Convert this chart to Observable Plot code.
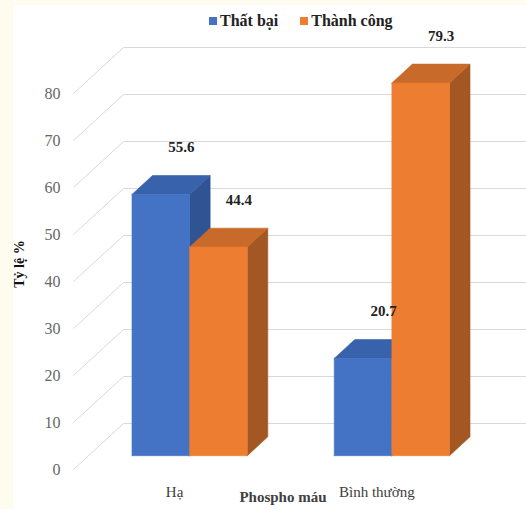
<!DOCTYPE html>
<html><head><meta charset="utf-8">
<script src="https://cdn.jsdelivr.net/npm/d3@7"></script>
<script src="https://cdn.jsdelivr.net/npm/@observablehq/plot@0.6"></script>
<style>
html,body{margin:0;padding:0;background:#fdfcee;}
#wrap{position:relative;width:526px;height:509px;overflow:hidden;}
#panel{position:absolute;left:13px;top:5px;width:513px;height:504px;background:#fff;}
#chart{position:absolute;left:0;top:0;}
.lab{position:absolute;font-family:'Liberation Serif','Tinos','Times New Roman','DejaVu Serif',serif;font-weight:bold;white-space:nowrap;}
.sw{display:inline-block;width:8px;height:8px;margin-right:3px;vertical-align:1px;}
#chart svg text{font-family:'Liberation Serif','Tinos','Times New Roman','DejaVu Serif',serif;}
</style></head><body>
<div id="wrap">
<div id="panel"></div>
<div id="chart"></div>
<div id="legend" class="lab" style="left:209px;top:12px;font-size:16px;color:#222;"></div>
<div id="ytitle" class="lab" style="left:20px;top:264px;font-size:14px;color:#111;transform:translate(-50%,-50%) rotate(-90deg);">Tỷ lệ %</div>
<div id="xtitle" class="lab" style="left:283px;top:497px;font-size:15px;color:#404040;transform:translate(-50%,-50%);">Phospho máu</div>
</div>
<script>
const categories = ["Hạ", "Bình thường"];
const series = ["Thất bại", "Thành công"];
const thatBai = [55.6, 20.7];
const thanhCong = [44.4, 79.3];
const yTicks = [0, 10, 20, 30, 40, 50, 60, 70, 80];

const values = [thatBai, thanhCong];
const palette = [
  {front: "#4472c4", top: "#3962ac", side: "#2f5393"},
  {front: "#ed7d31", top: "#c86a29", side: "#a35823"}
];

// legend
const legend = document.getElementById("legend");
series.forEach((s, j) => {
  const span = document.createElement("span");
  span.style.marginRight = j === 0 ? "22px" : "0";
  span.innerHTML = `<span class="sw" style="background:${palette[j].front}"></span>${s}`;
  legend.appendChild(span);
});

// oblique 3D geometry (data units)
const W = 0.285, T0 = 0.3, T1 = 0.71, DX = 0.2475, DY = 9.79, XL = -0.5, XR = 1.74;
const P = (x, y, t) => ({x: x + t * DX, y: y + t * DY});

const faces = series.map(() => ({front: [], top: [], side: []}));
const labels = [];
categories.forEach((c, i) => {
  series.forEach((s, j) => {
    const v = values[j][i];
    const x0 = i + (j - 1) * W, x1 = x0 + W;
    const id = c + "|" + s;
    const poly = {
      front: [P(x0, 0, T0), P(x1, 0, T0), P(x1, v, T0), P(x0, v, T0)],
      top: [P(x0, v, T0), P(x1, v, T0), P(x1, v, T1), P(x0, v, T1)],
      side: [P(x1, 0, T0), P(x1, 0, T1), P(x1, v, T1), P(x1, v, T0)]
    };
    for (const f of ["front", "top", "side"]) {
      const pts = poly[f];
      pts.concat([pts[0]]).forEach(p => faces[j][f].push({id, x: p.x, y: p.y}));
    }
    labels.push({x: x0 + W / 2 + T1 * DX, y: v + T1 * DY, text: v.toFixed(1)});
  });
});

const gridDiag = yTicks.map(v => ({x1: XL, y1: v, x2: XL + DX, y2: v + DY}));
const gridBack = yTicks.map(v => ({x1: XL + DX, y1: v + DY, x2: XR, y2: v + DY}));

const barMarks = [];
series.forEach((s, j) => {
  for (const f of ["side", "top", "front"]) {
    barMarks.push(Plot.line(faces[j][f], {x: "x", y: "y", z: "id", fill: palette[j][f], stroke: palette[j][f], strokeWidth: 0.6, curve: "linear"}));
  }
});

const chart = Plot.plot({
  width: 526, height: 509,
  marginLeft: 73, marginRight: 0, marginTop: 46, marginBottom: 40,
  x: {domain: [XL, XR], axis: null},
  y: {domain: [0, 90], axis: null},
  style: {background: "transparent", overflow: "visible"},
  marks: [
    Plot.link(gridDiag, {x1: "x1", y1: "y1", x2: "x2", y2: "y2", stroke: "#d9d9d9", strokeWidth: 1}),
    Plot.link(gridBack, {x1: "x1", y1: "y1", x2: "x2", y2: "y2", stroke: "#d9d9d9", strokeWidth: 1}),
    ...barMarks,
    Plot.text(labels, {x: "x", y: "y", text: "text", dy: -28, fontSize: 15, fontWeight: "bold", fill: "#222"}),
    Plot.text(yTicks, {x: XL, y: d => d, text: d => String(d), dx: -13, textAnchor: "end", fontSize: 16, fill: "#666"}),
    Plot.text(categories, {x: (d, i) => i, y: 0, text: d => d, dy: 23, fontSize: 15, fill: "#404040"})
  ]
});
document.getElementById("chart").appendChild(chart);
</script>
</body></html>
